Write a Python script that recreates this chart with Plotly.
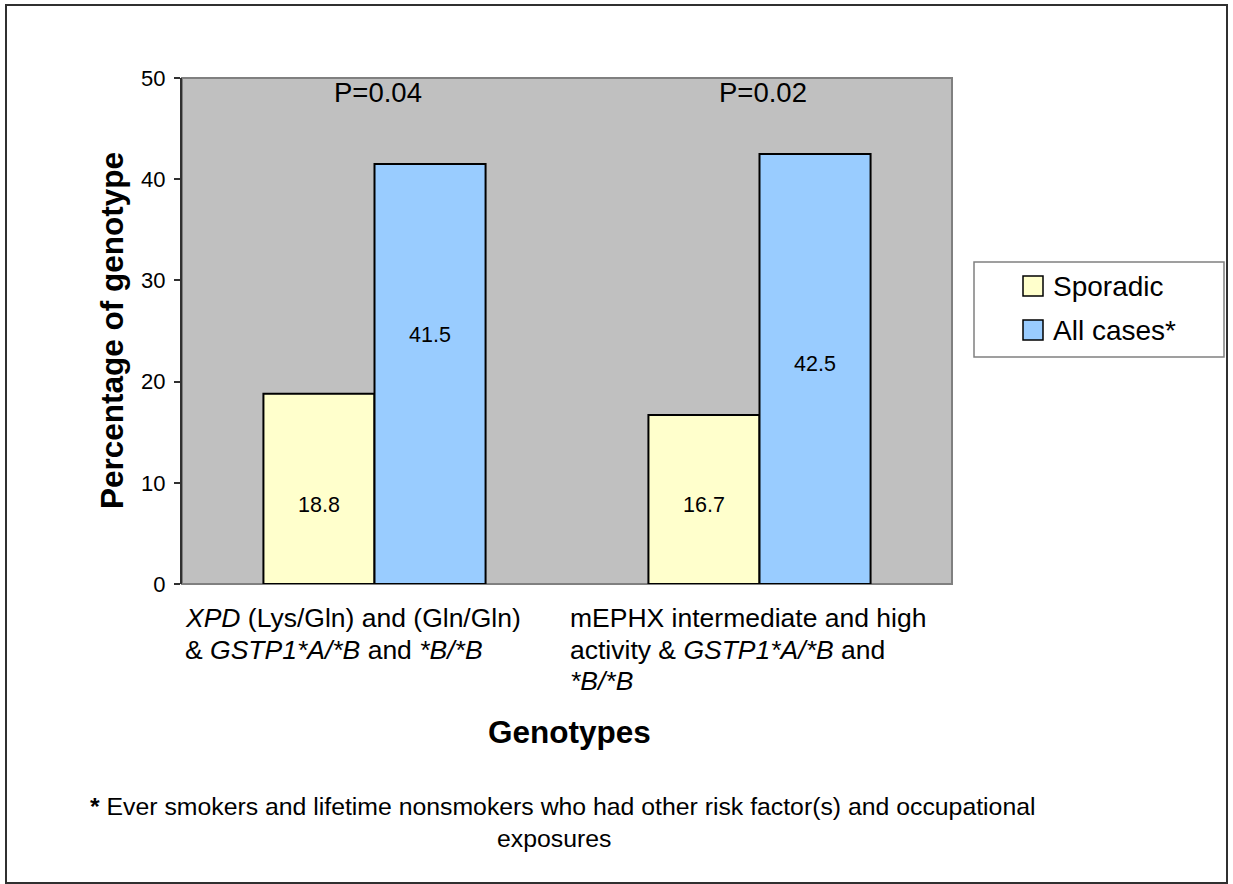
import plotly.graph_objects as go

# ---- data ----
categories = ["XPD & GSTP1", "mEPHX & GSTP1"]
category_labels = [
    ["<i>XPD</i> (Lys/Gln) and (Gln/Gln)",
     "&amp; <i>GSTP1*A/*B</i> and <i>*B/*B</i>"],
    ["mEPHX intermediate and high",
     "activity &amp; <i>GSTP1*A/*B</i> and",
     "<i>*B/*B</i>"],
]
series_names = ["Sporadic", "All cases*"]
sporadic = [18.8, 16.7]
all_cases = [41.5, 42.5]
p_values = ["P=0.04", "P=0.02"]
y_ticks = [0, 10, 20, 30, 40, 50]

# ---- styling ----
W, H = 1233, 884
PLOT_L, PLOT_R, PLOT_T, PLOT_B = 182, 952, 78, 584
colors = ["#FFFFCC", "#99CCFF"]
FONT = "Liberation Sans, Arial, sans-serif"
label_y = [[7.8, 7.8], [24.6, 21.7]]  # value-label heights inside bars


def px_x(p):
    return (p - PLOT_L) / (PLOT_R - PLOT_L)


def px_y(p):
    return (PLOT_B - p) / (PLOT_B - PLOT_T)


def text_note(x, y, text, size, **kw):
    d = dict(x=px_x(x), y=px_y(y), xref="paper", yref="paper", text=text,
             showarrow=False, xanchor="center", yanchor="middle",
             font=dict(size=size, color="black", family=FONT))
    d.update(kw)
    return d


fig = go.Figure()
for name, vals, col in zip(series_names, [sporadic, all_cases], colors):
    fig.add_trace(go.Bar(
        x=categories, y=vals, name=name,
        marker=dict(color=col, line=dict(color="black", width=2)),
        showlegend=False, hoverinfo="x+y+name",
    ))

annotations = []
# value labels inside bars
offsets = [-0.1445, 0.1445]
for s, vals in enumerate([sporadic, all_cases]):
    for i, v in enumerate(vals):
        annotations.append(dict(
            x=i + offsets[s], y=label_y[s][i], xref="x", yref="y",
            text=f"{v:.1f}", showarrow=False, xanchor="center", yanchor="middle",
            font=dict(size=21.5, color="black", family=FONT),
        ))
# significance labels
for i, p in enumerate(p_values):
    annotations.append(dict(
        x=i + 0.01, y=48.6, xref="x", yref="y", text=p, showarrow=False,
        xanchor="center", yanchor="middle",
        font=dict(size=27.5, color="black", family=FONT),
    ))
# category labels, left aligned at each slot's left edge
line_rows = [618, 649.5, 681]
for i, lines in enumerate(category_labels):
    for j, line in enumerate(lines):
        annotations.append(dict(
            x=i - 0.5 + 0.002, y=px_y(line_rows[j]), xref="x", yref="paper",
            text=line, showarrow=False, xanchor="left", yanchor="middle",
            align="left", font=dict(size=26.5, color="black", family=FONT),
        ))
# axis titles
annotations.append(text_note(112, 331, "<b>Percentage of genotype</b>", 31.5,
                             textangle=-90))
annotations.append(text_note(569, 732, "<b>Genotypes</b>", 31.5))
# footnote
annotations.append(text_note(
    562, 806,
    "<b>*</b> Ever smokers and lifetime nonsmokers who had other risk factor(s) and occupational",
    24.8))
annotations.append(text_note(554, 838, "exposures", 24.8))
# legend entries
legend_rows = [286, 330]
for name, ry in zip(series_names, legend_rows):
    annotations.append(text_note(1051, ry, name, 28, xanchor="left"))

shapes = [
    # plot-area frame
    dict(type="rect", xref="paper", yref="paper", x0=0, x1=1, y0=0, y1=1,
         line=dict(color="#808080", width=2), layer="below"),
    # outer chart frame
    dict(type="rect", xref="paper", yref="paper",
         x0=px_x(6), x1=px_x(1227), y0=px_y(883), y1=px_y(5),
         line=dict(color="#303030", width=2)),
    # legend box
    dict(type="rect", xref="paper", yref="paper",
         x0=px_x(974), x1=px_x(1224), y0=px_y(357), y1=px_y(262),
         line=dict(color="#808080", width=1.5), fillcolor="white"),
]
for col, ry in zip(colors, legend_rows):
    shapes.append(dict(
        type="rect", xref="paper", yref="paper",
        x0=px_x(1023), x1=px_x(1043), y0=px_y(ry + 10), y1=px_y(ry - 10),
        line=dict(color="black", width=1.5), fillcolor=col,
    ))

fig.update_layout(
    width=W, height=H,
    margin=dict(l=PLOT_L, r=W - PLOT_R, t=PLOT_T, b=H - PLOT_B, pad=0),
    paper_bgcolor="white", plot_bgcolor="#C0C0C0",
    barmode="group", bargap=0.423, bargroupgap=0,
    font=dict(family=FONT, color="black"),
    xaxis=dict(showticklabels=False, ticks="", showgrid=False, zeroline=False,
               showline=False, fixedrange=True),
    yaxis=dict(range=[0, 50], tickvals=y_ticks, ticks="outside", ticklen=6,
               tickwidth=1.5, tickcolor="#303030", showgrid=False, zeroline=False,
               showline=True, linecolor="#303030", linewidth=2,
               ticklabelstandoff=4,
               tickfont=dict(size=22, color="black", family=FONT), fixedrange=True),
    annotations=annotations, shapes=shapes,
    showlegend=False,
)

fig.write_html("out.html")
